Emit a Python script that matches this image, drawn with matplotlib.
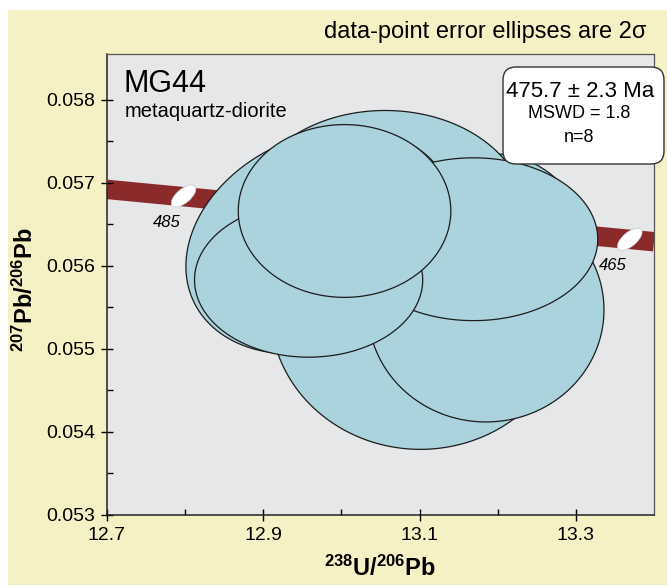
import numpy as np
import matplotlib
matplotlib.use("Agg")
import matplotlib.pyplot as plt
from matplotlib.patches import Ellipse, Polygon, FancyBboxPatch, Rectangle
from matplotlib.transforms import ScaledTranslation

plt.rcParams['font.family'] = ['Liberation Sans', 'DejaVu Sans']
plt.rcParams['mathtext.fontset'] = 'custom'
plt.rcParams['mathtext.rm'] = 'Liberation Sans'
plt.rcParams['mathtext.bf'] = 'Liberation Sans:bold'

# --- data: 238U/206Pb, 207Pb/206Pb, 2-sigma errors, error correlation ---
# listed in drawing order (back to front)
u_pb = [13.101, 13.192, 13.056, 12.973, 13.185, 13.169, 12.958, 13.004]
pb_pb = [0.05547, 0.05619, 0.05661, 0.05629, 0.05547, 0.05632, 0.05583, 0.05666]
u_pb_err = [0.192, 0.123, 0.180, 0.172, 0.151, 0.159, 0.146, 0.136]
pb_pb_err = [0.00168, 0.00116, 0.00126, 0.00135, 0.00135, 0.00098, 0.00093, 0.00104]
err_rho = [0.0, 0.0, 0.0, 0.22, 0.0, 0.0, 0.0, 0.0]

# concordia band
conc_x = [12.70, 12.80, 12.90, 13.00, 13.10, 13.20, 13.30, 13.40]
conc_y = [0.05692, 0.05683, 0.05674, 0.05665, 0.05655, 0.05646, 0.05638, 0.05629]

# age marks on the concordia
mark_age = ["485", "465"]
mark_x = [12.798, 13.369]
mark_y = [0.05684, 0.05632]

x_ticks = [12.7, 12.9, 13.1, 13.3]
x_ticklabels = ["12.7", "12.9", "13.1", "13.3"]
y_ticks = [0.053, 0.054, 0.055, 0.056, 0.057, 0.058]
y_ticklabels = ["0.053", "0.054", "0.055", "0.056", "0.057", "0.058"]

sample = "MG44"
rock = "metaquartz-diorite"
result_lines = ["475.7 \u00b1 2.3 Ma", "MSWD = 1.8", "n=8"]

# --- figure ---
fig = plt.figure(figsize=(6.67, 5.87), dpi=100, facecolor="white")
fig.add_artist(Rectangle((0.08, 0.02), 6.59, 5.75, transform=fig.dpi_scale_trans,
                         facecolor="#f6f1c4", edgecolor="none", zorder=-1))

ax = fig.add_axes([0.1604, 0.1227, 0.8201, 0.7853])
ax.set_facecolor("#e6e7e9")

# concordia band
ax.plot(conc_x, conc_y, color="#8b2a2a", lw=14, solid_capstyle="butt", zorder=1)
for age, mx, my in zip(mark_age, mark_x, mark_y):
    tr = fig.dpi_scale_trans + ScaledTranslation(mx, my, ax.transData)
    ax.add_patch(Ellipse((0, 0), 0.30, 0.14, angle=40, transform=tr,
                         facecolor="white", edgecolor="#cccccc", lw=0.5, zorder=1.5))
    ax.annotate(age, (mx, my), xytext=(-12, -19), textcoords="offset points",
                ha="center", va="center", fontsize=12, style="italic", zorder=1.5)

# error ellipses
t = np.linspace(0, 2 * np.pi, 300)
for i in range(len(u_pb)):
    ex, ey, r = u_pb_err[i], pb_pb_err[i], err_rho[i]
    px = u_pb[i] + ex * np.cos(t)
    py = pb_pb[i] + ey * (r * np.cos(t) + np.sqrt(1 - r ** 2) * np.sin(t))
    ax.add_patch(Polygon(np.column_stack([px, py]), closed=True,
                         facecolor="#abd3dd", edgecolor="#1c1c1c", lw=0.9,
                         zorder=2 + i * 0.01))

ax.set_xlim(12.7, 13.4)
ax.set_ylim(0.053, 0.05855)
ax.set_xticks(x_ticks)
ax.set_xticklabels(x_ticklabels)
ax.set_yticks(y_ticks)
ax.set_yticklabels(y_ticklabels)
ax.set_xticks([12.8, 13.0, 13.2], minor=True)
ax.set_yticks([0.0535, 0.0545, 0.0555, 0.0565, 0.0575], minor=True)
ax.tick_params(which="major", direction="inout", length=9, width=1, labelsize=14, pad=4)
ax.tick_params(which="minor", direction="in", length=4, width=1)
for side in ["left", "bottom"]:
    ax.spines[side].set_color("#222222")
    ax.spines[side].set_linewidth(1.1)
for side in ["top", "right"]:
    ax.spines[side].set_color("#555555")
    ax.spines[side].set_linewidth(0.9)

# labels
fig.text(380 / 667, 1 - 568 / 587, r"$\mathbf{^{238}U/^{206}Pb}$", ha="center", va="center", fontsize=17)
fig.text(25 / 667, 1 - 290 / 587, r"$\mathbf{^{207}Pb/^{206}Pb}$", ha="center", va="center",
         rotation=90, fontsize=17)
fig.text(647 / 667, 1 - 38 / 587, "data-point error ellipses are 2\u03c3", ha="right",
         va="baseline", fontsize=17)
fig.text(123 / 667, 1 - 92 / 587, sample, ha="left", va="baseline", fontsize=22)
fig.text(125 / 667, 1 - 117 / 587, rock, ha="left", va="baseline", fontsize=14.5)

# result box
fig.add_artist(FancyBboxPatch((5.03, 4.23), 1.61, 0.97, transform=fig.dpi_scale_trans,
                              boxstyle="round,pad=0,rounding_size=0.13",
                              facecolor="white", edgecolor="#333333", lw=1, zorder=3))
fig.text(580 / 667, 1 - 97 / 587, result_lines[0], ha="center", va="baseline", fontsize=16, zorder=4)
fig.text(579 / 667, 1 - 118 / 587, result_lines[1], ha="center", va="baseline", fontsize=13, zorder=4)
fig.text(579 / 667, 1 - 142 / 587, result_lines[2], ha="center", va="baseline", fontsize=13, zorder=4)

fig.savefig("out.png", dpi=100)
